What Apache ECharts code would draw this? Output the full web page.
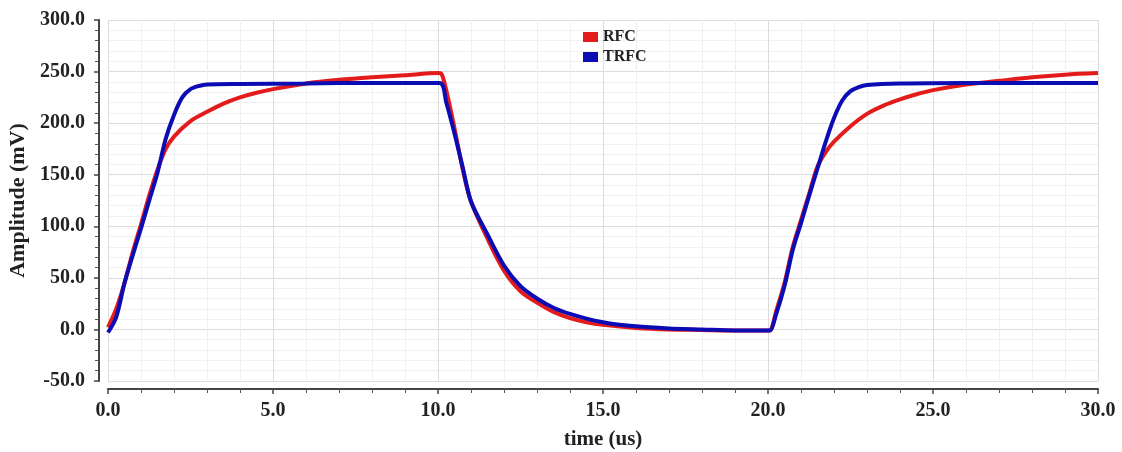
<!DOCTYPE html>
<html>
<head>
<meta charset="utf-8">
<script src="https://cdn.jsdelivr.net/npm/echarts@6/dist/echarts.min.js"></script>
<style>
  html, body { margin: 0; padding: 0; background: #fff; }
  #chart { width: 1122px; height: 452px; }
</style>
</head>
<body>
<div id="chart"></div>
<script>
/* data */
let seriesNames = ["RFC", "TRFC"];

let rfcTime = [0, 0.25, 0.5, 0.75, 1.0, 1.25, 1.5, 1.75, 2.0, 2.5, 3.0, 3.5, 4.0, 4.5, 5.0, 6.0, 7.0, 8.0, 9.0, 10.0, 10.1,
  10.3, 10.5, 10.75, 11.0, 11.5, 12.0, 12.5, 13.0, 13.5, 14.0, 14.5, 15.0, 16.0, 17.0, 18.0, 19.0, 20.0, 20.06,
  20.25, 20.5, 20.75, 21.0, 21.25, 21.5, 21.75, 22.0, 22.5, 23.0, 23.5, 24.0, 24.5, 25.0, 26.0, 27.0, 28.0, 29.0, 30.0];
let rfcValue = [2, 20, 45, 75, 102, 130, 155, 175, 187, 202, 211, 219, 225, 229.5, 233, 238.5, 242, 244.5, 246.5, 248.5, 248,
  225, 195, 155, 124, 88, 57, 37, 26, 17, 11, 7, 4.5, 1.5, 0, -0.5, -1, -1, -1,
  18, 45, 80, 106, 132, 158, 172, 182, 197, 209, 217, 223, 228, 232, 237.5, 241, 244.5, 247, 248.5];

let trfcTime = [0, 0.25, 0.5, 0.75, 1.0, 1.25, 1.5, 1.75, 2.0, 2.25, 2.5, 2.75, 3.0, 4.0, 6.0, 8.0, 10.05,
  10.25, 10.5, 10.75, 11.0, 11.5, 12.0, 12.5, 13.0, 13.5, 14.0, 14.5, 15.0, 15.5, 16.0, 17.0, 18.0, 19.0, 20.0, 20.06,
  20.25, 20.5, 20.75, 21.0, 21.25, 21.5, 21.75, 22.0, 22.25, 22.5, 22.75, 23.0, 24.0, 26.0, 28.0, 30.0];
let trfcValue = [-3, 12, 45, 72, 98, 125, 152, 185, 208, 225, 233, 236, 237.5, 238, 238.5, 239, 239,
  220, 190, 157, 124, 92, 62, 42, 30, 21, 15, 10.5, 7, 4.5, 3, 1, 0, -1, -1, -1,
  15, 42, 77, 103, 130, 156, 182, 205, 222, 231, 235, 237, 238.5, 239, 239, 239];

function pairs(xs, ys) {
  return xs.map(function (x, i) { return [x, ys[i]]; });
}

let font = "Liberation Serif";

let myChart = echarts.init(document.getElementById("chart"));
let option = {
  animation: false,
  backgroundColor: "#ffffff",
  grid: { left: 108, right: 24, top: 20, bottom: 71, outerBoundsMode: "none" },
  legend: {
    orient: "vertical",
    left: 578,
    top: 24,
    itemWidth: 15,
    itemHeight: 10,
    itemGap: 4,
    icon: "rect",
    data: seriesNames,
    textStyle: { fontFamily: font, fontWeight: "bold", fontSize: 16, color: "#222" },
  },
  xAxis: {
    type: "value",
    min: 0,
    max: 30,
    interval: 5,
    offset: 8,
    name: "time (us)",
    nameLocation: "middle",
    nameGap: 40,
    nameTextStyle: { fontFamily: font, fontWeight: "bold", fontSize: 21, color: "#222" },
    axisLine: { onZero: false, lineStyle: { color: "#444", width: 2 } },
    axisTick: { length: 5, lineStyle: { color: "#444", width: 1.5 } },
    minorTick: { show: true, splitNumber: 5, length: 4, lineStyle: { color: "#555" } },
    axisLabel: {
      margin: 12,
      fontFamily: font, fontWeight: "bold", fontSize: 20, color: "#222",
      formatter: function (v) { return v.toFixed(1); },
    },
    splitLine: { show: true, lineStyle: { color: "#dcdcdc", width: 1 } },
    minorSplitLine: { show: true, lineStyle: { color: "#f0f0f0", width: 1 } },
  },
  yAxis: {
    type: "value",
    min: -50,
    max: 300,
    interval: 50,
    offset: 9,
    name: "Amplitude (mV)",
    nameLocation: "middle",
    nameGap: 68,
    nameTextStyle: { fontFamily: font, fontWeight: "bold", fontSize: 22, color: "#222" },
    axisLine: { show: true, onZero: false, lineStyle: { color: "#444", width: 2 } },
    axisTick: { show: true, length: 5, lineStyle: { color: "#444", width: 1.5 } },
    minorTick: { show: true, splitNumber: 5, length: 4, lineStyle: { color: "#555" } },
    axisLabel: {
      margin: 14,
      fontFamily: font, fontWeight: "bold", fontSize: 20, color: "#222",
      formatter: function (v) { return v.toFixed(1); },
    },
    splitLine: { show: true, lineStyle: { color: "#dcdcdc", width: 1 } },
    minorSplitLine: { show: true, lineStyle: { color: "#f0f0f0", width: 1 } },
  },
  series: [
    {
      name: seriesNames[0],
      type: "line",
      data: pairs(rfcTime, rfcValue),
      showSymbol: false,
      smooth: 0.3,
      color: "#e31b1b",
      lineStyle: { width: 4, color: "#e31b1b" },
    },
    {
      name: seriesNames[1],
      type: "line",
      data: pairs(trfcTime, trfcValue),
      showSymbol: false,
      smooth: 0.3,
      color: "#0c0cb4",
      lineStyle: { width: 4, color: "#0c0cb4" },
    },
  ],
};
myChart.setOption(option);
</script>
</body>
</html>
